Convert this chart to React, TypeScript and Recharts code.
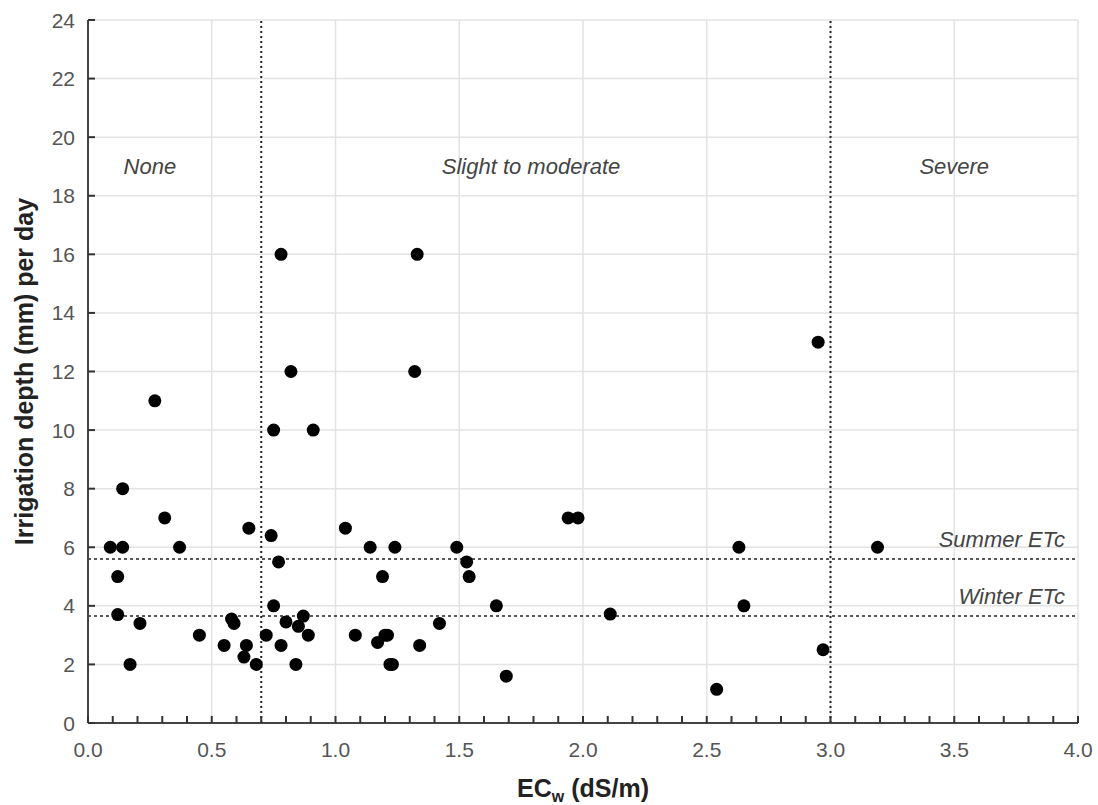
import React from 'react'
import {
  ScatterChart,
  Scatter,
  XAxis,
  YAxis,
  CartesianGrid,
  ReferenceLine,
  ReferenceDot,
} from 'recharts'

// EC of irrigation water (dS/m) and irrigation depth (mm/day), one pair per site
const ecw = [
  0.09, 0.12, 0.12, 0.14, 0.14, 0.17, 0.21, 0.27, 0.31, 0.37,
  0.45, 0.55, 0.58, 0.59, 0.63, 0.64, 0.65, 0.68, 0.72, 0.74,
  0.75, 0.75, 0.77, 0.78, 0.78, 0.8, 0.82, 0.84, 0.85, 0.87,
  0.89, 0.91, 1.04, 1.08, 1.14, 1.17, 1.19, 1.2, 1.21, 1.22,
  1.23, 1.24, 1.32, 1.33, 1.34, 1.42, 1.49, 1.53, 1.54, 1.65,
  1.69, 1.94, 1.98, 2.11, 2.54, 2.63, 2.65, 2.95, 2.97, 3.19,
]
const depth = [
  6, 5, 3.7, 8, 6, 2, 3.4, 11, 7, 6,
  3, 2.65, 3.55, 3.4, 2.25, 2.65, 6.65, 2, 3, 6.4,
  10, 4, 5.5, 16, 2.65, 3.45, 12, 2, 3.3, 3.65,
  3, 10, 6.65, 3, 6, 2.75, 5, 3, 3, 2,
  2, 6, 12, 16, 2.65, 3.4, 6, 5.5, 5, 4,
  1.6, 7, 7, 3.72, 1.15, 6, 4, 13, 2.5, 6,
]

const salinityBounds = [0.7, 3.0]
const etcLevels = [
  { name: 'Summer ETc', value: 5.6 },
  { name: 'Winter ETc', value: 3.65 },
]
const regionLabels = [
  { name: 'None', x: 0.25, y: 19 },
  { name: 'Slight to moderate', x: 1.79, y: 19 },
  { name: 'Severe', x: 3.5, y: 19 },
]

const majorX = [0, 0.5, 1, 1.5, 2, 2.5, 3, 3.5, 4]
const minorX = [
  0, 0.1, 0.2, 0.3, 0.4, 0.5, 0.6, 0.7, 0.8, 0.9,
  1, 1.1, 1.2, 1.3, 1.4, 1.5, 1.6, 1.7, 1.8, 1.9,
  2, 2.1, 2.2, 2.3, 2.4, 2.5, 2.6, 2.7, 2.8, 2.9,
  3, 3.1, 3.2, 3.3, 3.4, 3.5, 3.6, 3.7, 3.8, 3.9, 4,
]
const majorY = [0, 2, 4, 6, 8, 10, 12, 14, 16, 18, 20, 22, 24]
const minorY = [
  0, 1, 2, 3, 4, 5, 6, 7, 8, 9, 10, 11, 12,
  13, 14, 15, 16, 17, 18, 19, 20, 21, 22, 23, 24,
]

const data = ecw.map((x, i) => ({ x, y: depth[i] }))

const FONT = '"Liberation Sans", Arial, sans-serif'
const AXIS = '#444'
const TICK_TEXT = '#555'

const isMajorX = (v: number) => majorX.some((m) => Math.abs(m - v) < 1e-6)

const BottomTick = (props: any) => {
  const { x, y, payload } = props
  const v = payload.value as number
  return (
    <g>
      <line x1={x} x2={x} y1={y} y2={y - 7} stroke="#333" strokeWidth={2} />
      {isMajorX(v) && (
        <text x={x} y={y + 34} textAnchor="middle" fill={TICK_TEXT} fontSize={21} fontFamily={FONT}>
          {v.toFixed(1)}
        </text>
      )}
    </g>
  )
}

const TopTick = (props: any) => {
  const { x, y } = props
  return <line x1={x} x2={x} y1={y} y2={y + 7} stroke="#333" strokeWidth={2} />
}

const LeftTick = (props: any) => {
  const { x, y, payload } = props
  return (
    <g>
      <line x1={x} x2={x + 7} y1={y} y2={y} stroke="#333" strokeWidth={2} />
      <text x={x - 13} y={y} dy="0.36em" textAnchor="end" fill={TICK_TEXT} fontSize={21} fontFamily={FONT}>
        {payload.value}
      </text>
    </g>
  )
}

const RightTick = (props: any) => {
  const { x, y } = props
  return <line x1={x} x2={x - 7} y1={y} y2={y} stroke="#333" strokeWidth={2} />
}

const YTitle = (props: any) => {
  const { viewBox } = props
  const cx = viewBox.x + 24
  const cy = viewBox.y + viewBox.height / 2
  return (
    <text
      transform={`translate(${cx}, ${cy}) rotate(-90)`}
      textAnchor="middle"
      dominantBaseline="central"
      fontSize={25}
      fontWeight="bold"
      fill="#222"
      fontFamily={FONT}
    >
      Irrigation depth (mm) per day
    </text>
  )
}

const XTitle = (props: any) => {
  const { viewBox } = props
  const cx = viewBox.x + viewBox.width / 2
  return (
    <text x={cx} y={viewBox.y + 74} textAnchor="middle" fontSize={25} fontWeight="bold" fill="#222" fontFamily={FONT}>
      <tspan>EC</tspan>
      <tspan dy={5} fontSize={16}>w</tspan>
      <tspan dy={-5}> (dS/m)</tspan>
    </text>
  )
}

const EtcLabel = (name: string) => (props: any) => {
  const { viewBox } = props
  return (
    <text
      x={viewBox.x + viewBox.width - 13}
      y={viewBox.y - 12}
      textAnchor="end"
      fontSize={22}
      fontStyle="italic"
      fill="#444"
      fontFamily={FONT}
    >
      {name}
    </text>
  )
}

const RegionLabel = (name: string) => (props: any) => {
  const { viewBox } = props
  return (
    <text
      x={viewBox.x + viewBox.width / 2}
      y={viewBox.y + viewBox.height / 2}
      textAnchor="middle"
      dominantBaseline="central"
      fontSize={22}
      fontStyle="italic"
      fill="#444"
      fontFamily={FONT}
    >
      {name}
    </text>
  )
}

const Dot = (props: any) => <circle cx={props.cx} cy={props.cy} r={6.5} fill="#000" />

export default function App() {
  return (
    <div style={{ position: 'absolute', left: 0, top: 0, background: '#fff' }}>
      <ScatterChart width={1098} height={805} margin={{ top: 20, right: 20, bottom: 0, left: 0 }}>
        <CartesianGrid
          verticalValues={majorX}
          horizontalValues={majorY}
          stroke="#e3e3e3"
          strokeWidth={1.5}
        />
        <XAxis
          type="number"
          dataKey="x"
          domain={[0, 4]}
          ticks={minorX}
          interval={0}
          tickSize={0}
          tickMargin={0}
          tickLine={false}
          tick={BottomTick}
          axisLine={{ stroke: AXIS, strokeWidth: 2 }}
          height={82}
          allowDataOverflow
          label={{ content: XTitle }}
        />
        <XAxis
          xAxisId="top"
          orientation="top"
          type="number"
          domain={[0, 4]}
          ticks={minorX}
          interval={0}
          tickSize={0}
          tickMargin={0}
          tickLine={false}
          tick={TopTick}
          axisLine={{ stroke: AXIS, strokeWidth: 2 }}
          height={0}
          allowDataOverflow
        />
        <YAxis
          type="number"
          dataKey="y"
          domain={[0, 24]}
          ticks={majorY}
          interval={0}
          tickSize={0}
          tickMargin={0}
          tickLine={false}
          tick={LeftTick}
          axisLine={{ stroke: AXIS, strokeWidth: 2 }}
          width={88}
          allowDataOverflow
          label={{ content: YTitle }}
        />
        <YAxis
          yAxisId="right"
          orientation="right"
          type="number"
          domain={[0, 24]}
          ticks={minorY}
          interval={0}
          tickSize={0}
          tickMargin={0}
          tickLine={false}
          tick={RightTick}
          axisLine={{ stroke: AXIS, strokeWidth: 2 }}
          width={0}
          allowDataOverflow
        />
        {salinityBounds.map((b) => (
          <ReferenceLine key={b} x={b} stroke="#222" strokeWidth={2} strokeDasharray="2 3" />
        ))}
        {etcLevels.map((e) => (
          <ReferenceLine
            key={e.name}
            y={e.value}
            stroke="#222"
            strokeWidth={1.5}
            strokeDasharray="3 3"
            label={{ content: EtcLabel(e.name) }}
          />
        ))}
        {regionLabels.map((r) => (
          <ReferenceDot
            key={r.name}
            x={r.x}
            y={r.y}
            r={0}
            fill="none"
            stroke="none"
            label={{ content: RegionLabel(r.name) }}
          />
        ))}
        <Scatter data={data} fill="#000" shape={Dot} isAnimationActive={false} />
      </ScatterChart>
    </div>
  )
}
